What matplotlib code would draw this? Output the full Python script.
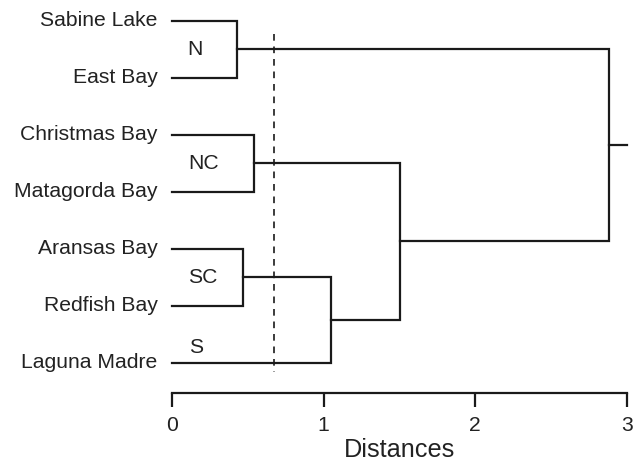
import matplotlib.pyplot as plt

plt.rcParams['font.family'] = ['Liberation Sans', 'DejaVu Sans']

# leaves, top to bottom
leaves = ['Sabine Lake', 'East Bay', 'Christmas Bay', 'Matagorda Bay',
          'Aransas Bay', 'Redfish Bay', 'Laguna Madre']
# merges in scipy style: (node a, node b, distance); new node ids start at len(leaves)
merges = [(0, 1, 0.43), (2, 3, 0.54), (4, 5, 0.47),
          (9, 6, 1.05), (8, 10, 1.50), (7, 11, 2.88)]
cut_height = 0.67
groups = ['N', 'NC', 'SC', 'S']
group_pos = [(0.15, 0.5), (0.21, 2.5), (0.20, 4.5), (0.16, 5.73)]

col = '#1a1a1a'
txt = '#222222'

fig = plt.figure(figsize=(6.39, 4.62), dpi=100)
ax = fig.add_axes([172 / 639, 1 - 392.7 / 462, 455 / 639, 372 / 462])

pos = {i: (0.0, float(i)) for i in range(len(leaves))}
for k, (a, b, d) in enumerate(merges):
    xa, ya = pos[a]
    xb, yb = pos[b]
    ax.plot([xa, d, d, xb], [ya, ya, yb, yb], color=col, lw=1.6,
            solid_joinstyle='miter', clip_on=False)
    pos[len(leaves) + k] = (d, (ya + yb) / 2)

# stub from root
xr, yr = pos[len(leaves) + len(merges) - 1]
ax.plot([xr, 3.0], [yr, yr], color=col, lw=1.6, clip_on=False)

# cut line
ax.plot([cut_height, cut_height], [0.23, 6.16], color=col, lw=1.2,
        linestyle=(0, (4, 3.5)), clip_on=False)

for name, i in zip(leaves, range(len(leaves))):
    ax.text(-0.095, i, name, ha='right', va='center', fontsize=15.2, color=txt)

for g, (gx, gy) in zip(groups, group_pos):
    ax.text(gx, gy, g, ha='center', va='center', fontsize=15.2, color=txt)

ax.set_xlim(0, 3)
ax.set_ylim(6.53, 0)
for s in ['top', 'right', 'left']:
    ax.spines[s].set_visible(False)
ax.spines['bottom'].set_linewidth(1.6)
ax.spines['bottom'].set_color(col)
ax.set_yticks([])
ax.set_xticks([0, 1, 2, 3])
ax.tick_params(axis='x', length=10, width=1.6, color=col, labelsize=15.2,
               labelcolor=txt, pad=7)
ax.set_xlabel('Distances', fontsize=18.2, color=txt, labelpad=2)

fig.savefig('out.png', dpi=100)
